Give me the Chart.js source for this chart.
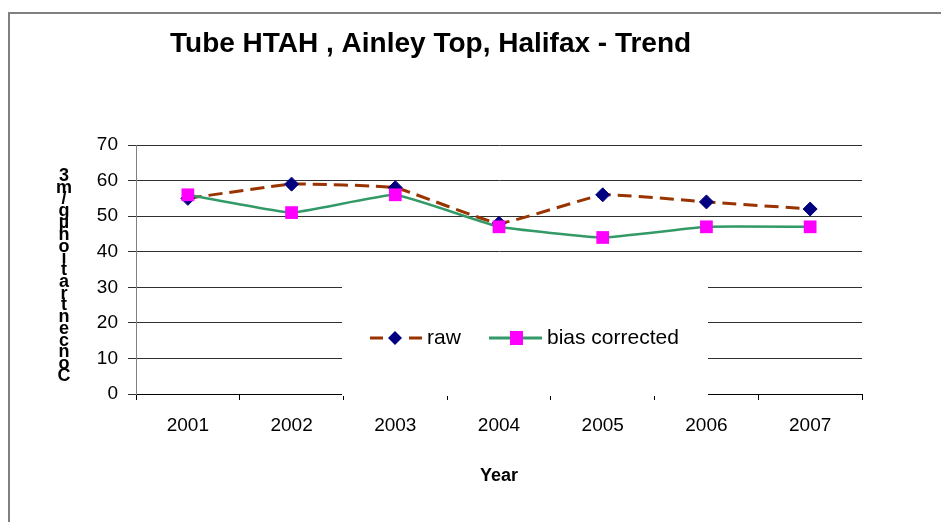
<!DOCTYPE html>
<html>
<head>
<meta charset="utf-8">
<script src="https://cdn.jsdelivr.net/npm/chart.js@4.4.1/dist/chart.umd.min.js"></script>
<style>
  html, body { margin: 0; padding: 0; background: #fff; }
  #wrap { width: 941px; height: 522px; }
</style>
</head>
<body>
<div id="wrap"><canvas id="trendChart" width="941" height="522"></canvas></div>
<script>
const years = ["2001", "2002", "2003", "2004", "2005", "2006", "2007"];
const rawValues = [55, 59, 58, 48, 56, 54, 52];
const biasCorrected = [56, 51, 56, 47, 44, 47, 47];

const chartTitle = "Tube HTAH , Ainley Top, Halifax - Trend";
const yAxisTitle = "Concentration µg/m3";
const xAxisTitle = "Year";

const fontFamily = '"Liberation Sans", Arial, sans-serif';
Chart.defaults.font.family = fontFamily;

// frame, title, stacked y label and the boxed legend sitting inside the plot
const decorations = {
    id: "decorations",
    beforeDraw(chart) {
        const ctx = chart.ctx;
        ctx.save();
        ctx.fillStyle = "#fff";
        ctx.fillRect(0, 0, chart.width, chart.height);

        ctx.strokeStyle = "#808080";
        ctx.lineWidth = 2;
        ctx.beginPath();
        ctx.moveTo(9, chart.height);
        ctx.lineTo(9, 13);
        ctx.lineTo(chart.width, 13);
        ctx.stroke();

        ctx.fillStyle = "#000";
        ctx.font = "bold 28px " + fontFamily;
        ctx.textBaseline = "alphabetic";
        ctx.textAlign = "left";
        ctx.fillText(chartTitle, 170, 52);

        // y title: upright letters stacked, read bottom to top
        const chars = yAxisTitle.replace(/ /g, "").split("").reverse();
        ctx.font = "bold 18px " + fontFamily;
        ctx.textAlign = "center";
        ctx.textBaseline = "middle";
        const step = 200 / (chars.length - 1);
        chars.forEach((c, i) => ctx.fillText(c, 64, 176 + i * step));
        ctx.restore();
    },
    afterDraw(chart) {
        const ctx = chart.ctx;
        ctx.save();
        ctx.fillStyle = "#fff";
        ctx.fillRect(342, 270, 366, 126);

        const ly = 338;
        // raw
        ctx.strokeStyle = "#993300";
        ctx.lineWidth = 3;
        ctx.beginPath();
        ctx.moveTo(370, ly); ctx.lineTo(383, ly);
        ctx.moveTo(409, ly); ctx.lineTo(422, ly);
        ctx.stroke();
        ctx.fillStyle = "#000080";
        ctx.beginPath();
        ctx.moveTo(395, ly - 7); ctx.lineTo(402, ly); ctx.lineTo(395, ly + 7); ctx.lineTo(388, ly);
        ctx.closePath();
        ctx.fill();

        // bias corrected
        ctx.strokeStyle = "#339966";
        ctx.beginPath();
        ctx.moveTo(489, ly); ctx.lineTo(542, ly);
        ctx.stroke();
        ctx.fillStyle = "#ff00ff";
        ctx.fillRect(510, ly - 7, 13, 14);

        ctx.fillStyle = "#000";
        ctx.font = "21px " + fontFamily;
        ctx.textAlign = "left";
        ctx.textBaseline = "middle";
        ctx.fillText("raw", 427, ly);
        ctx.fillText("bias corrected", 547, ly);
        ctx.restore();
    }
};

const ctx = document.getElementById("trendChart").getContext("2d");

new Chart(ctx, {
    type: "line",
    data: {
        labels: years,
        datasets: [
            {
                label: "raw",
                data: rawValues,
                borderColor: "#993300",
                backgroundColor: "#993300",
                borderWidth: 3,
                borderDash: [14, 7],
                pointStyle: "rectRot",
                pointRadius: 7,
                pointBackgroundColor: "#000080",
                pointBorderColor: "#000080",
                pointBorderWidth: 1,
                tension: 0.1,
                order: 2
            },
            {
                label: "bias corrected",
                data: biasCorrected,
                borderColor: "#339966",
                backgroundColor: "#339966",
                borderWidth: 2.5,
                pointStyle: "rect",
                pointRadius: 9,
                pointBackgroundColor: "#ff00ff",
                pointBorderColor: "#ff00ff",
                pointBorderWidth: 0,
                tension: 0.1,
                order: 1
            }
        ]
    },
    options: {
        responsive: false,
        animation: false,
        layout: { padding: { top: 145, right: 79, left: 0, bottom: 0 } },
        plugins: {
            legend: { display: false },
            title: { display: false },
            tooltip: { enabled: false }
        },
        scales: {
            x: {
                offset: true,
                grid: { offset: true, drawOnChartArea: false, tickLength: 6, color: "#000" },
                border: { color: "#000" },
                ticks: { color: "#000", font: { size: 19 }, padding: 14 },
                title: {
                    display: true,
                    text: xAxisTitle,
                    color: "#000",
                    font: { size: 18, weight: "bold" },
                    padding: { top: 0, bottom: 35 }
                },
                afterFit: (scale) => { scale.height = 128; }
            },
            y: {
                min: 0,
                max: 70,
                ticks: { stepSize: 10, color: "#000", font: { size: 19 }, padding: 10 },
                grid: { color: "#303030", tickLength: 8 },
                border: { color: "#808080" },
                afterFit: (scale) => { scale.width = 136; }
            }
        }
    },
    plugins: [decorations]
});
</script>
</body>
</html>
